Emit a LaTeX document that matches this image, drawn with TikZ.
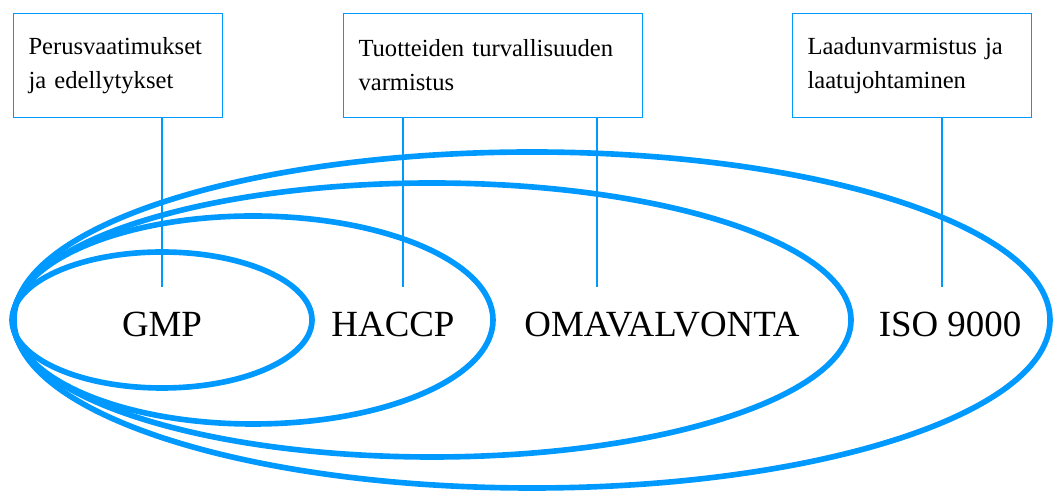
\documentclass[tikz,border=0pt]{standalone}
\usepackage{fontspec}
\setmainfont{Liberation Serif}

\definecolor{ringblue}{RGB}{0,153,255}

\begin{document}
\begin{tikzpicture}[x=0.02cm, y=0.02cm,
    ring/.style={line width=3.2pt, ringblue},
    stem/.style={line width=0.6pt, ringblue},
    infobox/.style={draw=ringblue, line width=0.6pt, anchor=north west, align=left,
        inner xsep=0.3cm, minimum height=2.08cm, font=\fontsize{14}{19.3}\selectfont},
    lbl/.style={anchor=base, font=\fontsize{21}{25}\selectfont}]
    \useasboundingbox (0,0) rectangle (1053,492);
    % the nested rings
    \draw[ring] (532,172) ellipse [x radius=518, y radius=168];
    \draw[ring] (432,172) ellipse [x radius=419, y radius=137];
    \draw[ring] (253,172) ellipse [x radius=240, y radius=104];
    \draw[ring] (162,172) ellipse [x radius=150, y radius=68];
    \node[lbl] (gmp) at (162,155) {GMP};
    \node[lbl] (haccp) at (393,155) {HACCP};
    \node[lbl] (oma) at (662,155) {OMAVALVONTA};
    \node[lbl] (iso) at (950,155) {ISO 9000};
    % boxes above
    \node[infobox, text width=3.58cm] (perus) at (13,479) {Perusvaatimukset\\ja edellytykset};
    \node[infobox, text width=5.38cm] (tuote) at (343,479) {Tuotteiden turvallisuuden\\varmistus};
    \node[infobox, text width=4.18cm] (laatu) at (792,479) {Laadunvarmistus ja\\laatujohtaminen};
    \coordinate (gmptop) at (162,205);
    \coordinate (hacctop) at (403,205);
    \coordinate (omatop) at (597,205);
    \coordinate (isotop) at (942,205);
    \draw[stem] (gmptop |- perus.south) -- (gmptop);
    \draw[stem] (hacctop |- tuote.south) -- (hacctop);
    \draw[stem] (omatop |- tuote.south) -- (omatop);
    \draw[stem] (isotop |- laatu.south) -- (isotop);
\end{tikzpicture}
\end{document}
